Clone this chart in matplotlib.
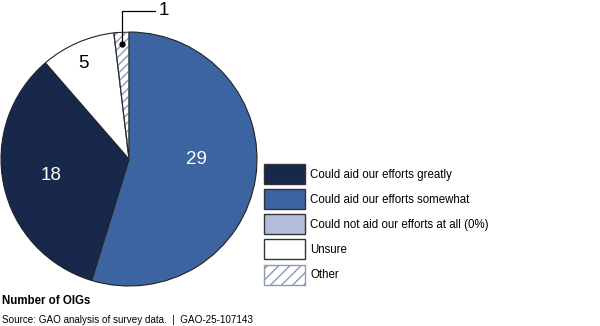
import matplotlib.pyplot as plt
import matplotlib.patches as mpatches
import numpy as np

# pie slices, clockwise from 12 o'clock
pie_labels = ['Could aid our efforts somewhat', 'Could aid our efforts greatly', 'Unsure', 'Other']
pie_values = [29, 18, 5, 1]
pie_colors = ['#3b64a0', '#17284b', '#ffffff', '#ffffff']

legend_labels = ['Could aid our efforts greatly', 'Could aid our efforts somewhat',
                 'Could not aid our efforts at all (0%)', 'Unsure', 'Other']
legend_colors = ['#17284b', '#3b64a0', '#b6bdda', '#ffffff', '#ffffff']

plt.rcParams['font.family'] = ['Liberation Sans', 'DejaVu Sans']
edge = '#222222'
hatch_edge = '#8a9bb3'

fig = plt.figure(figsize=(6, 3.26), dpi=100)
ax = fig.add_axes([1 / 600, 40 / 326, 256 / 600, 254 / 326])

wedges, _ = ax.pie(pie_values, colors=pie_colors, startangle=90, counterclock=False,
                   wedgeprops=dict(edgecolor=edge, linewidth=0.8))
ax.set_xlim(-1.0, 1.0)
ax.set_ylim(-1.0, 1.0)
ax.set_aspect('auto')

# hatched "Other" slice, redraw outline on top
wedges[3].set_hatch('////')
wedges[3].set_edgecolor(hatch_edge)
outline = mpatches.Wedge(wedges[3].center, wedges[3].r, wedges[3].theta1, wedges[3].theta2,
                         fill=False, edgecolor=edge, linewidth=0.8)
ax.add_patch(outline)

def mid_point(w, r):
    a = np.deg2rad((w.theta1 + w.theta2) / 2)
    return r * np.cos(a), r * np.sin(a)

ax.text(0.53, 0.0, str(pie_values[0]), color='white', fontsize=13.5, ha='center', va='center')
x, y = mid_point(wedges[1], 0.62)
ax.text(x, y, str(pie_values[1]), color='white', fontsize=13.5, ha='center', va='center')
x, y = mid_point(wedges[2], 0.8)
ax.text(x - 0.03, y + 0.02, str(pie_values[2]), color='black', fontsize=13.5, ha='center', va='center')

# leader line for the tiny slice
x, y = mid_point(wedges[3], 0.905)
ax.plot([x], [y], 'o', color='black', markersize=3.5, clip_on=False)
ax.plot([x, x, 0.2], [y, 1.165, 1.165], color='black', linewidth=0.9, clip_on=False)
ax.text(0.235, 1.17, str(pie_values[3]), fontsize=13.5, ha='left', va='center')

handles = []
for lab, col in zip(legend_labels, legend_colors):
    h = mpatches.Patch(facecolor=col, edgecolor='#333333', linewidth=1.0, label=lab)
    if lab == 'Other':
        h = mpatches.Patch(facecolor=col, edgecolor=hatch_edge, hatch='///', linewidth=1.0, label=lab)
    handles.append(h)

fig.legend(handles=handles, loc='upper left', bbox_to_anchor=(264 / 600, 1 - 164 / 326),
           frameon=False, fontsize=8.3, handlelength=3.55, handleheight=2.3,
           labelspacing=0.44, handletextpad=0.45, borderpad=0, borderaxespad=0)

fig.text(2 / 600, 1 - 301 / 326, 'Number of OIGs', fontsize=8.3, fontweight='bold', va='center')
fig.text(2 / 600, 1 - 320 / 326, 'Source: GAO analysis of survey data.  |  GAO-25-107143',
         fontsize=7.1, va='center')

fig.savefig('out.png', dpi=100)
